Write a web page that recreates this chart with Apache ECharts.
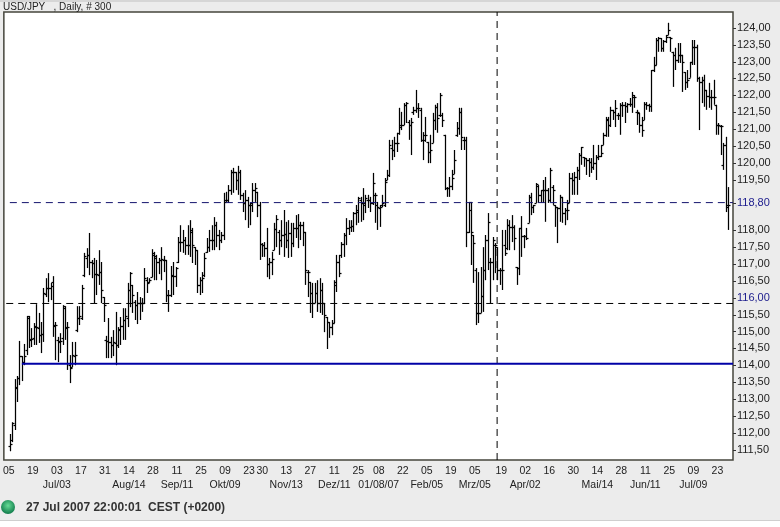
<!DOCTYPE html>
<html><head><meta charset="utf-8">
<style>html,body{margin:0;padding:0;background:#ececec}#c{width:780px;height:527px}</style>
<script src="https://cdn.jsdelivr.net/npm/echarts@6/dist/echarts.min.js"></script>
</head><body><div id="c"></div>
<script>
const highs=[111.96,112.31,113.59,113.68,114.72,114.27,114.63,115.46,115.46,115.10,
115.25,115.81,115.55,115.28,116.29,116.58,116.73,116.44,116.64,115.28,
114.84,114.95,115.78,115.75,115.28,114.30,114.69,114.69,115.75,115.75,
116.38,117.33,117.47,117.92,117.12,117.18,117.12,117.41,117.06,116.02,
114.87,115.40,114.84,115.04,115.58,115.13,115.43,115.69,115.69,116.44,
116.76,116.38,115.93,116.17,116.02,115.99,116.88,116.61,116.58,117.44,
117.36,117.27,117.18,117.50,117.24,117.12,116.23,116.94,117.06,116.91,
117.80,118.15,118.01,117.80,118.15,118.30,118.07,117.50,117.41,116.61,
116.76,117.33,117.77,118.01,118.15,118.39,118.25,118.01,117.95,119.11,
119.14,119.34,119.79,119.85,119.73,119.91,119.79,119.11,119.19,118.99,
118.81,119.40,119.40,119.14,118.84,117.62,117.65,118.07,117.18,117.36,
118.22,118.45,118.01,118.30,118.60,118.25,118.30,118.22,118.22,118.45,
118.48,118.25,118.25,117.95,116.82,116.47,116.44,116.44,116.52,116.58,
116.44,115.84,115.43,115.28,115.34,116.52,117.27,117.27,117.65,117.92,
118.36,118.30,118.30,118.54,118.75,118.99,118.99,119.25,119.05,119.05,
118.99,119.70,119.11,118.84,118.75,119.05,119.55,119.79,120.68,120.68,
120.77,120.89,121.63,121.51,121.77,121.80,121.27,121.33,121.66,122.16,
121.77,121.63,120.91,121.36,120.62,120.83,121.48,121.72,121.77,122.07,
121.48,120.83,119.28,119.58,119.79,120.38,121.21,121.63,121.63,120.77,
120.77,118.84,118.84,117.86,116.88,116.76,116.91,117.50,117.86,118.51,
117.18,117.80,117.62,117.50,116.88,118.01,118.01,118.33,118.30,118.45,
118.15,116.91,118.07,118.42,117.86,118.07,119.05,119.11,118.75,119.40,
119.34,119.19,119.49,119.58,119.25,119.85,119.34,118.75,118.69,119.05,
118.99,118.66,118.90,119.70,119.70,119.73,119.88,120.29,120.47,120.17,
120.14,120.14,120.14,120.53,120.23,120.53,120.53,120.89,121.36,121.36,
121.66,121.57,121.86,121.48,121.77,121.80,121.80,121.77,121.92,122.10,
122.01,121.57,121.48,121.36,121.80,121.80,121.75,122.75,123.14,123.70,
123.73,123.70,123.64,123.79,124.15,123.73,123.29,123.41,123.55,123.55,
123.20,122.69,122.75,122.99,123.64,123.64,123.50,122.55,122.55,122.61,
122.16,122.37,122.16,122.46,121.72,121.18,121.12,120.59,120.77,119.28];
const lows=[111.45,111.72,112.08,112.91,113.41,113.53,114.00,114.30,114.51,114.54,
114.60,114.60,114.66,114.36,114.69,116.02,115.87,115.93,114.84,114.15,
114.09,114.36,114.60,114.75,113.86,113.47,113.94,114.00,114.98,115.19,
115.34,116.61,116.88,116.67,116.58,115.84,116.08,116.38,115.84,115.28,
114.21,114.21,114.21,114.27,114.00,114.51,114.60,114.75,114.75,115.13,
115.72,115.55,115.34,115.22,115.34,115.58,115.84,116.14,116.44,116.61,
116.52,116.52,116.70,116.52,116.76,115.87,115.58,116.02,116.08,116.32,
117.03,117.36,117.33,117.27,117.27,117.21,117.03,116.97,116.14,116.08,
116.14,116.61,117.33,117.36,117.41,117.41,117.50,117.41,117.62,117.71,
118.84,118.81,119.05,119.11,119.19,119.05,118.90,118.54,118.30,118.07,
118.15,118.54,118.84,118.39,117.12,117.21,117.21,116.61,116.55,116.67,
117.41,117.50,117.27,117.50,117.21,117.47,117.18,117.21,117.50,117.77,
117.47,117.71,117.53,116.38,116.02,115.55,115.40,115.84,115.58,115.55,
115.49,114.98,114.48,114.81,114.89,115.25,116.17,116.61,117.18,117.21,
117.56,117.86,117.95,117.95,118.15,118.22,118.25,118.30,118.51,118.66,
118.54,118.75,118.22,118.01,118.10,118.69,118.69,119.49,119.58,120.08,
120.17,120.32,120.83,120.97,121.12,121.18,120.68,120.23,121.42,121.48,
121.33,120.62,120.08,120.62,119.99,119.99,120.59,120.97,120.89,121.36,
121.06,119.19,118.99,118.99,119.19,119.67,120.77,120.83,120.38,120.38,
117.50,117.92,116.97,116.44,115.19,115.25,115.55,115.58,116.52,116.82,
115.84,116.52,116.73,116.52,116.38,116.23,117.24,117.41,117.41,117.65,
117.41,116.38,116.67,117.21,117.47,117.71,118.22,118.45,118.51,118.81,
118.81,118.81,118.81,118.25,118.81,118.84,118.75,118.10,117.62,118.25,
118.22,118.15,118.30,118.81,119.05,119.05,119.05,119.49,119.94,119.88,
119.64,119.58,119.70,119.79,119.49,120.08,120.17,120.53,120.77,120.77,
121.06,121.27,121.06,121.27,120.83,121.36,121.18,121.48,121.66,121.48,
121.63,121.12,120.89,120.77,121.27,121.57,121.51,121.51,122.69,122.90,
123.29,123.29,123.29,123.55,123.79,123.29,122.25,122.75,122.96,122.96,
122.10,122.16,122.22,122.52,122.90,122.90,122.40,120.97,121.77,121.66,
121.57,121.63,121.57,121.72,120.83,120.83,120.23,119.79,118.54,118.01];
const opens=[111.60,111.78,112.22,113.32,113.62,114.27,114.09,114.45,115.40,114.75,
114.81,115.13,115.10,114.89,114.92,116.11,116.29,116.29,116.47,115.16,
114.75,114.69,114.81,115.69,115.10,114.00,113.94,114.27,115.04,115.40,
115.40,116.67,117.18,117.27,117.06,117.03,116.70,116.67,116.76,116.02,
114.75,114.72,114.69,114.60,114.66,114.60,115.04,115.16,115.34,115.40,
116.23,116.38,115.87,115.78,115.84,115.84,115.84,116.52,116.47,116.61,
117.27,117.18,117.06,117.12,117.12,117.12,116.08,116.08,116.64,116.64,
117.06,117.65,117.65,117.71,117.56,117.56,117.95,117.50,117.41,116.38,
116.52,116.67,117.36,117.50,117.71,117.71,118.15,117.86,117.71,117.86,
118.90,118.90,119.19,119.73,119.73,119.49,119.73,119.05,118.81,118.90,
118.75,118.75,119.19,119.14,118.75,117.59,117.56,117.47,117.00,117.06,
117.41,118.04,117.95,117.71,117.86,117.89,117.71,117.92,117.62,118.07,
118.07,118.15,118.15,117.95,116.76,116.47,116.14,115.84,116.14,115.84,
116.23,115.84,115.43,115.28,115.13,115.25,116.38,117.06,117.27,117.59,
117.86,118.07,118.10,118.13,118.51,118.54,118.90,118.81,118.75,118.90,
118.90,118.81,119.05,118.75,118.66,118.75,118.75,119.49,119.64,120.44,
120.38,120.59,120.89,121.12,121.12,121.72,121.21,121.12,121.51,121.57,
121.63,121.57,120.68,120.83,120.62,120.32,120.59,121.27,121.66,121.42,
121.42,120.83,119.25,119.25,119.31,119.67,120.83,121.03,121.51,120.68,
120.68,117.95,118.84,117.86,116.82,115.55,115.55,116.05,116.82,117.71,
117.06,117.06,117.56,117.50,116.82,116.82,117.56,117.47,118.15,118.10,
118.10,116.91,116.88,118.07,117.83,117.83,118.22,118.99,118.69,118.81,
119.31,119.05,119.19,119.19,119.19,118.90,119.28,118.75,118.69,118.66,
118.99,118.51,118.60,118.81,119.55,119.49,119.58,119.79,120.23,120.17,
120.14,120.08,120.03,119.88,119.99,120.17,120.20,120.53,120.83,121.27,
121.12,121.57,121.51,121.42,121.42,121.72,121.72,121.69,121.75,121.75,
121.95,121.51,121.48,121.12,121.27,121.75,121.72,121.69,122.75,122.90,
123.64,123.70,123.41,123.61,123.79,123.73,123.29,123.20,123.05,123.20,
123.20,122.69,122.40,122.52,122.99,123.44,123.44,122.52,122.40,122.46,
122.16,121.98,121.95,121.95,121.72,121.12,121.09,119.94,120.53,118.75];
const closes=[111.66,112.28,113.35,113.62,114.27,114.09,114.27,115.46,114.78,114.78,
115.16,115.13,114.89,114.92,116.14,116.29,116.29,116.35,115.19,115.19,
114.72,114.72,115.75,115.13,115.13,113.92,114.30,114.30,115.40,115.46,
116.29,117.24,117.27,117.06,117.03,116.70,116.70,116.76,116.23,115.78,
114.72,114.69,114.60,114.69,114.60,115.07,115.16,115.34,115.46,116.23,
116.73,116.08,115.78,115.84,115.84,115.84,116.58,116.44,116.52,117.33,
117.24,117.06,117.12,117.15,117.12,116.08,116.08,116.67,116.64,116.88,
117.65,117.65,117.71,117.56,117.56,118.01,117.56,117.41,116.38,116.52,
116.58,117.18,117.50,117.71,117.71,118.15,117.86,117.71,117.86,118.84,
118.90,119.19,119.73,119.73,119.49,119.73,119.05,118.81,118.90,118.75,
118.81,119.19,119.25,118.75,117.59,117.56,117.47,117.00,117.06,117.15,
118.04,118.33,117.71,117.86,117.89,117.71,117.92,117.62,118.07,118.07,
118.15,118.15,117.95,116.82,116.76,116.14,115.84,116.14,115.84,116.23,
115.84,115.49,115.28,115.13,115.25,116.47,117.06,116.73,117.59,117.86,
118.07,118.10,118.13,118.51,118.60,118.96,118.81,118.81,118.96,118.90,
118.81,119.40,119.05,118.69,118.69,118.81,119.43,119.64,120.53,120.38,
120.59,120.59,121.06,121.12,121.72,121.77,121.12,121.21,121.57,121.63,
121.63,120.68,120.68,120.83,120.32,120.38,121.27,121.66,121.33,122.01,
121.27,119.25,119.25,119.31,119.55,120.08,121.03,121.51,120.77,120.68,
117.95,118.60,117.95,117.62,115.55,115.55,116.05,116.82,117.71,118.25,
117.06,117.71,117.56,116.82,116.82,116.82,117.33,118.15,118.10,118.10,
117.77,116.88,118.07,117.83,117.83,117.77,118.99,118.69,118.75,119.37,
119.05,119.19,119.19,119.19,118.90,119.79,119.19,118.69,118.66,118.99,
118.51,118.60,118.60,119.55,119.49,119.58,119.79,120.23,120.47,120.14,
120.08,120.03,119.88,119.99,120.17,120.20,120.29,120.83,121.30,121.12,
121.57,121.51,121.63,121.42,121.72,121.72,121.69,121.75,121.75,122.01,
121.95,121.51,121.12,120.97,121.75,121.72,121.69,122.75,122.90,123.64,
123.70,123.41,123.61,123.73,123.94,123.70,123.20,123.05,123.20,123.20,
122.99,122.40,122.46,122.99,123.44,123.44,122.52,122.40,122.46,122.16,
121.98,121.95,121.95,121.95,121.12,121.12,121.09,120.53,118.69,118.75];

const tickBars=[0,10,20,30,40,50,60,70,80,90,100,105.5,115.5,125.5,135.5,145.5,154,164,174,184,194,205,215,225,235,245,255,265,275,285,295];
const dayLabels=['05','19','03','17','31','14','28','11','25','09','23','30','13','27','11','25','08','22','05','19','05','19','02','16','30','14','28','11','25','09','23'];
const monthLabels=['','','Jul/03','','','Aug/14','','Sep/11','','Okt/09','','','Nov/13','','Dez/11','','01/08/07','','Feb/05','','Mrz/05','','Apr/02','','','Mai/14','','Jun/11','','Jul/09',''];
const priceTicks=[124,123.5,123,122.5,122,121.5,121,120.5,120,119.5,118.8,118,117.5,117,116.5,116,115.5,115,114.5,114,113.5,113,112.5,112,111.5];
const blueTicks=[118.8,116];
const resistance=118.82, support=115.83, baseLine=114.04, cursorBar=202.87;
const title='USD/JPY   , Daily, # 300', status='27 Jul 2007 22:00:01  CEST (+0200)';

const xMin=-2.49, xMax=301.08, yMin=111.19, yMax=124.47;
const ohlc=highs.map((h,i)=>[i,opens[i],h,lows[i],closes[i]]);
const font='"Liberation Sans",Arial,sans-serif';
const chart=echarts.init(document.getElementById('c'),null,{renderer:'canvas'});
const lineSeries=(data,color,width,dash)=>({type:'line',data,symbol:'none',silent:true,animation:false,
  lineStyle:{color,width,type:dash?[7,5]:'solid',cap:'butt'},z:dash?3:4});
chart.setOption({
  animation:false,backgroundColor:'#ececec',
  grid:{left:2,right:47,top:12,bottom:67,show:true,backgroundColor:'#fff',borderColor:'#45453c',borderWidth:1.5},
  xAxis:{type:'value',min:xMin,max:xMax,splitLine:{show:false},axisLine:{show:false},
    axisTick:{show:false},
    axisLabel:{customValues:tickBars,hideOverlap:false,showMinLabel:true,showMaxLabel:true,margin:4,color:'#222',
      fontFamily:font,fontSize:10.5,lineHeight:14,padding:[0,2,0,0],
      formatter:v=>{const k=tickBars.indexOf(v);return dayLabels[k]+'\n'+(monthLabels[k]||' ');}}},
  yAxis:{type:'value',position:'right',min:yMin,max:yMax,splitLine:{show:false},axisLine:{show:false},
    axisTick:{show:false},
    axisLabel:{customValues:priceTicks,margin:4,fontFamily:font,fontSize:11,hideOverlap:false,padding:[2,0,0,0],
      color:v=>blueTicks.includes(+v)?'#1a1a8c':'#222',
      formatter:v=>v.toFixed(2).replace('.',',')}},
  series:[
    lineSeries([[0,resistance],[xMax,resistance]],'#14146e',1,true),
    lineSeries([[-1.5,support],[xMax,support]],'#000',1,true),
    lineSeries([[5,baseLine],[xMax,baseLine]],'#0000a6',2,false),
    lineSeries([[cursorBar,yMin],[cursorBar,yMax]],'#000',1,true),
    {type:'custom',data:priceTicks.map(v=>[xMax,v]),encode:{x:0,y:1},silent:true,clip:false,z:2,
     renderItem:(p,api)=>{
       const c=api.coord([api.value(0),api.value(1)]),y=Math.round(c[1])+0.5;
       return {type:'line',shape:{x1:c[0],y1:y,x2:c[0]+3,y2:y},style:{stroke:'#333',lineWidth:1}};
     }},
    {type:'custom',data:ohlc,encode:{x:0,y:[1,2,3,4]},silent:true,clip:true,z:2,
     renderItem:(p,api)=>{
       const i=api.value(0);
       const O=api.coord([i,api.value(1)]),H=api.coord([i,api.value(2)]),
             L=api.coord([i,api.value(3)]),C=api.coord([i,api.value(4)]);
       const x=Math.round(O[0])+0.5, st={stroke:'#000',lineWidth:1.25};
       const seg=(a,b,c,d)=>({type:'line',shape:{x1:a,y1:b,x2:c,y2:d},style:st});
       return {type:'group',children:[
         seg(x,H[1],x,L[1]),
         seg(x-2,Math.round(O[1])+0.5,x,Math.round(O[1])+0.5),
         seg(x,Math.round(C[1])+0.5,x+2,Math.round(C[1])+0.5)]};
     }}
  ],
  graphic:[
    {type:'rect',left:0,top:0,shape:{width:780,height:2},style:{fill:'#d6d6d6'},silent:true},
    {type:'text',left:3,top:2,style:{text:title,font:'10px '+font,fill:'#222'},silent:true},
    {type:'circle',shape:{cx:8,cy:507,r:7},silent:true,style:{fill:new echarts.graphic.RadialGradient(0.5,0.4,0.6,[{offset:0,color:'#66dc96'},{offset:1,color:'#0f7a4a'}])}},
    {type:'text',left:26,top:502,style:{text:status,font:'bold 12px '+font,fill:'#333'},silent:true},
    {type:'rect',left:0,top:520,shape:{width:780,height:1},style:{fill:'#cfcfcf'},silent:true},
    {type:'rect',left:0,top:521,shape:{width:780,height:6},style:{fill:'#ffffff'},silent:true}
  ]
});
</script></body></html>
